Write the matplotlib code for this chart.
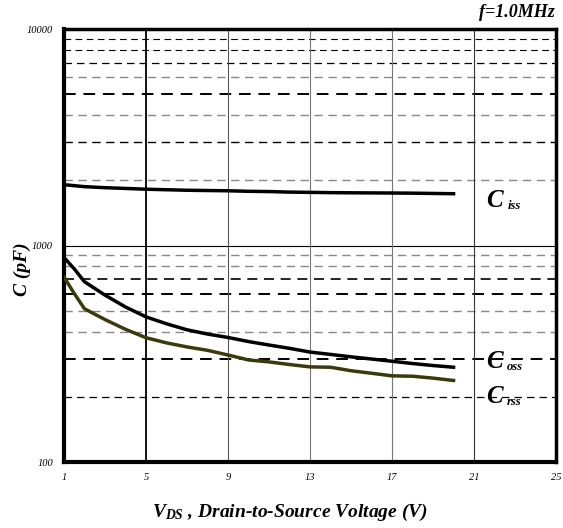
import numpy as np
import matplotlib.pyplot as plt

# Données
vds = [1, 1.5, 2, 3, 4, 5, 6, 7, 8, 9, 10, 11, 12, 13, 14, 15, 16, 17, 18, 19, 20]
ciss = [1910, 1890, 1870, 1850, 1835, 1820, 1810, 1800, 1795, 1790, 1780, 1775, 1765, 1760, 1755, 1752, 1750, 1748, 1745, 1740, 1735]
coss = [880, 780, 680, 590, 520, 468, 435, 408, 390, 376, 360, 347, 335, 322, 314, 306, 299, 292, 285, 279, 274]
crss = [715, 600, 510, 455, 410, 375, 355, 340, 328, 312, 296, 290, 282, 275, 274, 264, 257, 250, 249, 244, 238]

plt.rcParams['font.family'] = ['Liberation Serif', 'DejaVu Serif']
plt.rcParams['mathtext.fontset'] = 'custom'
plt.rcParams['mathtext.it'] = 'Liberation Serif:italic:bold'
plt.rcParams['mathtext.rm'] = 'Liberation Serif:italic:bold'

fig = plt.figure(figsize=(5.63, 5.28), dpi=100)
ax = fig.add_axes([0.1137, 0.125, 0.874, 0.82])
ax.set_yscale('log')
ax.set_xlim(1, 25)
ax.set_ylim(100, 10000)

# Grille horizontale (tirets) ==================================================
styles = {2: ('#888888', 1.0), 3: ('black', 1.0), 4: ('#888888', 1.0), 5: ('black', 1.4),
          6: ('#888888', 1.0), 7: ('black', 0.9), 8: ('black', 0.8), 9: ('black', 0.8)}
styles_bas = {2: ('black', 0.9), 3: ('black', 1.4), 4: ('#888888', 1.0), 5: ('#888888', 1.0),
              6: ('black', 1.4), 7: ('black', 1.2), 8: ('#888888', 1.0), 9: ('#888888', 1.0)}
for k in range(2, 10):
    c, w = styles_bas[k]
    ax.axhline(k * 100, color=c, lw=w, ls=(0, (6, 4)), zorder=1)
    c, w = styles[k]
    ax.axhline(k * 1000, color=c, lw=w, ls=(0, (6, 4)), zorder=1)
ax.axhline(1000, color='black', lw=0.8, zorder=1)

# Grille verticale
for xv, c, w in [(5, 'black', 1.3), (9, '#555555', 0.8), (13, '#777777', 0.8),
                 (17, '#777777', 0.8), (21, '#333333', 0.8)]:
    ax.axvline(xv, color=c, lw=w, zorder=1)

# Courbes
ax.plot(vds, ciss, color='black', lw=2.5, zorder=3)
ax.plot(vds, coss, color='black', lw=2.5, zorder=3)
ax.plot(vds, crss, color='#3a3a0c', lw=2.5, zorder=3)

# Étiquettes des courbes : grand C + indice
for yv, sub in [(1615, 'iss'), (290, 'oss'), (200, 'rss')]:
    ax.text(21.6, yv, 'C', fontsize=18, va='center', ha='left', fontweight='bold',
            style='italic', zorder=4)
    ax.annotate(sub, (21.6, yv), xytext=(15, -4), textcoords='offset points',
                fontsize=9, va='center', ha='left', fontweight='bold', style='italic', zorder=4)

# Axes
ax.set_xticks([1, 5, 9, 13, 17, 21, 25])
ax.set_xticklabels(['1', '5', '9', '13', '17', '21', '25'], style='italic', fontsize=7.5)
ax.set_yticks([100, 1000, 10000])
ax.set_yticklabels(['100', '1000', '10000'], style='italic', fontsize=7.5)
ax.yaxis.set_minor_locator(plt.NullLocator())
ax.tick_params(length=0, pad=8)
for s in ax.spines.values():
    s.set_linewidth(2.5)
ax.spines['left'].set_linewidth(3)
ax.spines['bottom'].set_linewidth(3)

fig.text(0.04, 0.49, 'C (pF)', rotation=90, fontsize=14, fontweight='bold', style='italic',
         ha='center', va='center')
fig.text(0.515, 0.03, r'$V_{DS}$ , Drain-to-Source Voltage (V)', fontsize=14,
         fontweight='bold', style='italic', ha='center', va='center')
fig.text(0.985, 0.977, 'f=1.0MHz', fontsize=13, fontweight='bold', style='italic',
         ha='right', va='center')

fig.savefig('out.png', dpi=100)
